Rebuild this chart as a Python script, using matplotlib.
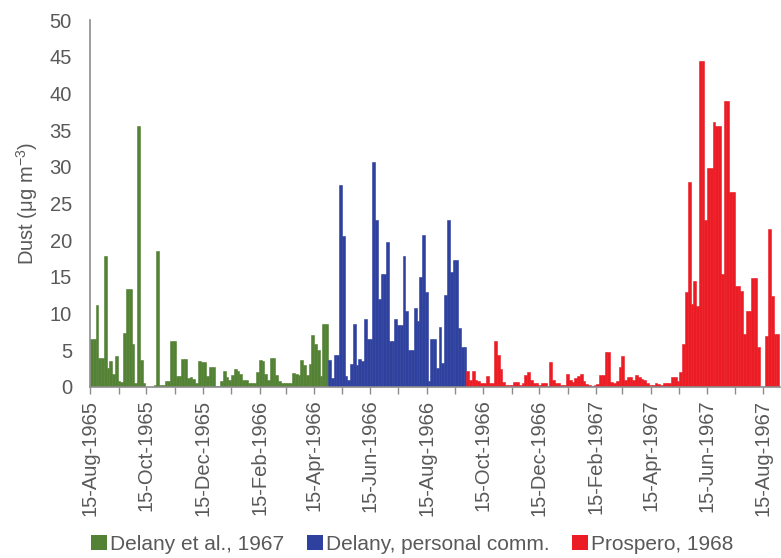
import numpy as np
import matplotlib
matplotlib.use("Agg")
import matplotlib.pyplot as plt
import matplotlib.dates as mdates
from matplotlib.patches import Patch

# dust concentration, one value per 3-day step (ug m-3)
step_days = 3

delany_start = np.datetime64("1965-08-15")
delany_vals = [6.5, 6.5, 11.2, 4.0, 4.0, 17.8, 2.6, 3.5, 1.8, 4.2,
               0.8, 0.7, 7.4, 13.3, 13.3, 5.9, 0.5, 35.6, 3.7, 0.5,
               0, 0, 0, 0.3, 18.5, 0.3, 0.3, 0.8, 0.8, 6.3,
               6.3, 1.5, 1.5, 3.8, 3.8, 1.2, 1.3, 1.1, 0.5, 3.5,
               3.4, 3.4, 1.5, 2.7, 2.7, 0.2, 0.2, 0.8, 2.2, 1.3,
               1.0, 1.7, 2.5, 2.2, 1.8, 1.0, 1.0, 0.5, 0.5, 0.5,
               2.0, 3.7, 3.6, 1.8, 1.0, 3.9, 3.9, 1.6, 0.8, 0.6,
               0.6, 0.6, 0.6, 1.9, 1.8, 1.6, 3.7, 3.0, 1.7, 3.1,
               7.1, 5.9, 5.0, 1.5, 8.6, 8.6]

personal_start = np.datetime64("1966-04-30")
personal_vals = [3.7, 1.2, 4.3, 4.3, 27.5, 20.6, 1.5, 1.0, 3.2, 8.6,
                 3.0, 3.8, 3.5, 9.3, 6.5, 6.5, 30.6, 22.7, 12.0, 15.4,
                 15.4, 19.8, 6.3, 6.3, 9.3, 8.4, 8.4, 17.8, 10.4, 5.0,
                 5.0, 10.7, 9.0, 15.0, 20.7, 12.9, 0.8, 6.5, 6.5, 2.6,
                 8.2, 3.3, 12.5, 22.7, 15.7, 17.3, 17.3, 8.0, 5.4, 5.4]

prospero_start = np.datetime64("1966-09-27")
prospero_vals = [2.2, 1.0, 2.2, 1.0, 0.8, 0.5, 0.5, 1.5, 0.5, 0.5,
                 6.3, 4.4, 2.5, 0.7, 0.3, 0.3, 0.3, 0.7, 0.7, 0.3,
                 0.5, 1.6, 2.0, 1.0, 0.5, 0.5, 0.3, 0.5, 0.5, 0.2,
                 3.4, 1.0, 0.5, 0.5, 0.3, 0.3, 1.8, 1.0, 0.7, 1.2,
                 1.5, 1.8, 0.8, 0.4, 0.3, 0.2, 0.3, 0.4, 1.6, 1.6,
                 4.8, 4.8, 0.7, 0.6, 0.8, 2.7, 4.2, 1.0, 1.4, 1.3,
                 0.9, 1.6, 1.3, 1.1, 1.0, 0.5, 0.3, 0.3, 0.6, 0.4,
                 0.3, 0.6, 0.5, 0.5, 1.4, 1.4, 0.8, 2.0, 5.9, 12.9,
                 27.9, 11.3, 14.5, 11.0, 44.4, 44.4, 22.7, 29.9, 29.9, 36.1,
                 35.5, 35.5, 15.4, 38.9, 38.9, 26.6, 26.6, 13.8, 13.8, 13.1,
                 7.2, 10.4, 10.4, 14.9, 14.9, 5.4, 0, 0, 7.0, 21.5,
                 12.4, 7.2, 7.2]

series_labels = ["Delany et al., 1967", "Delany, personal comm.", "Prospero, 1968"]
series_colors = ["#548235", "#2F419E", "#EC1C24"]

plt.rcParams["font.family"] = ["Liberation Sans", "DejaVu Sans"]
plt.rcParams["mathtext.fontset"] = "custom"
plt.rcParams["mathtext.rm"] = "Liberation Sans"
plt.rcParams["mathtext.it"] = "Liberation Sans:italic"

txt = "#595959"
axc = "#8C8C8C"

fig = plt.figure(figsize=(7.81, 5.58), dpi=100)
ax = fig.add_axes([90 / 781, 1 - 387 / 558, 690 / 781, 367 / 558])

starts = [delany_start, personal_start, prospero_start]
vals = [delany_vals, personal_vals, prospero_vals]
for s, v, c in zip(starts, vals, series_colors):
    d = s + np.arange(len(v)) * np.timedelta64(step_days, "D")
    x = mdates.date2num(d.astype("datetime64[D]").astype(object))
    ax.bar(x, v, width=step_days, align="edge", color=c,
           edgecolor=c, linewidth=0.4)

x0 = mdates.date2num(delany_start.astype(object))
ax.set_xlim(x0, x0 + 748)
ax.set_ylim(0, 50)
ax.set_yticks(np.arange(0, 51, 5))

ax.xaxis.set_major_locator(mdates.MonthLocator(bymonth=[2, 4, 6, 8, 10, 12], bymonthday=15))
ax.xaxis.set_minor_locator(mdates.MonthLocator(bymonthday=15))
ax.xaxis.set_major_formatter(mdates.DateFormatter("%d-%b-%Y"))

for sp in ["top", "right"]:
    ax.spines[sp].set_visible(False)
for sp in ["left", "bottom"]:
    ax.spines[sp].set_color(axc)
    ax.spines[sp].set_linewidth(1.2)

ax.tick_params(axis="y", length=0, pad=13, labelsize=14.5, labelcolor=txt)
ax.tick_params(axis="x", which="both", direction="out", length=5, width=1,
               color=axc, labelsize=14.5, labelcolor=txt, pad=4)
plt.setp(ax.get_xticklabels(), rotation=90)

ax.set_ylabel("Dust (\u03bcg m$^{-3}$)", fontsize=14.5, color=txt)
ax.yaxis.set_label_coords(-0.072, 0.5)

handles = [Patch(facecolor=c, edgecolor="none") for c in series_colors]
fig.legend(handles, series_labels, loc="center", bbox_to_anchor=(0.528, 0.025),
           ncol=3, frameon=False, fontsize=15, labelcolor=txt,
           handlelength=0.75, handleheight=0.75, handletextpad=0.15,
           columnspacing=1.1, borderpad=0)

fig.savefig("out.png", dpi=100)
